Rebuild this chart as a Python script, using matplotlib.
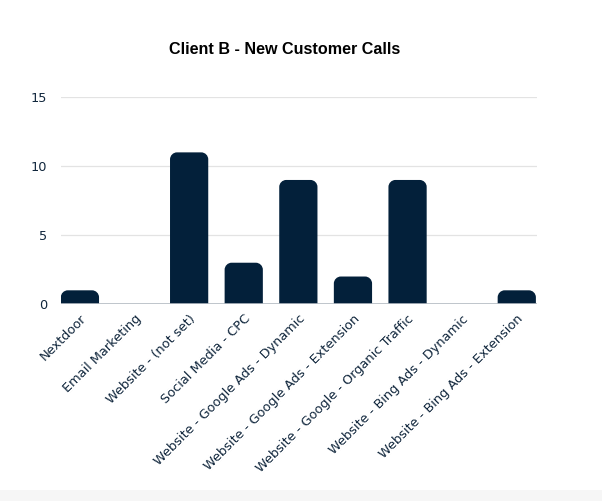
import matplotlib
matplotlib.use("Agg")
import matplotlib.pyplot as plt
from matplotlib.patches import PathPatch, Rectangle
from matplotlib.path import Path

# data
categories = ["Nextdoor", "Email Marketing", "Website - (not set)", "Social Media - CPC",
              "Website - Google Ads - Dynamic", "Website - Google Ads - Extension",
              "Website - Google - Organic Traffic", "Website - Bing Ads - Dynamic",
              "Website - Bing Ads - Extension"]
calls = [1, 0, 11, 3, 9, 2, 9, 0, 1]
yticks = [0, 5, 10, 15]

navy = "#03203a"
text_col = "#10263c"
lab_font = "DejaVu Sans"

fig = plt.figure(figsize=(6.02, 5.01), dpi=100)
ax = fig.add_axes([0.101, 0.393, 0.791, 0.413])

ax.set_xlim(-0.35, 8.37)
ax.set_ylim(0, 15)

# data units per pixel, for round corners
px_x = (8.37 + 0.35) / (0.791 * 602)
px_y = 15 / (0.413 * 501)
rx, ry = 7 * px_x, 7 * px_y
k = 0.5523


def top_rounded(x0, x1, h):
    verts = [(x0, 0), (x0, h - ry),
             (x0, h - ry * (1 - k)), (x0 + rx * (1 - k), h), (x0 + rx, h),
             (x1 - rx, h),
             (x1 - rx * (1 - k), h), (x1, h - ry * (1 - k)), (x1, h - ry),
             (x1, 0), (x0, 0)]
    codes = [Path.MOVETO, Path.LINETO,
             Path.CURVE4, Path.CURVE4, Path.CURVE4,
             Path.LINETO,
             Path.CURVE4, Path.CURVE4, Path.CURVE4,
             Path.LINETO, Path.CLOSEPOLY]
    return Path(verts, codes)


w = 0.7
for i, v in enumerate(calls):
    if v <= 0:
        continue
    ax.add_patch(PathPatch(top_rounded(i - w / 2, i + w / 2, v), fc=navy, ec="none", zorder=3))

ax.set_yticks(yticks)
ax.set_xticks(range(len(categories)))
ax.set_xticklabels(categories, rotation=45, ha="right", rotation_mode="anchor",
                   fontsize=9.3, family=lab_font, color=text_col)
ax.tick_params(axis="y", labelsize=9.3, labelcolor=text_col, length=0, pad=10)
ax.tick_params(axis="x", length=0, pad=6)
for t in ax.get_yticklabels():
    t.set_family(lab_font)

ax.grid(axis="y", color="#e3e3e3", lw=0.9, zorder=0)
ax.axhline(0, color="#b5bcc3", lw=1.2, zorder=4)
for s in ax.spines.values():
    s.set_visible(False)

fig.text(284.5 / 602, 1 - 50 / 501, "Client B - New Customer Calls", ha="center", va="center",
         fontsize=11.6, fontweight="bold", family="Liberation Sans", color="black")

fig.patches.append(Rectangle((0, 0), 1, 11 / 501, transform=fig.transFigure,
                             fc="#f6f6f6", ec="none", zorder=0))

fig.savefig("out.png", dpi=100)
